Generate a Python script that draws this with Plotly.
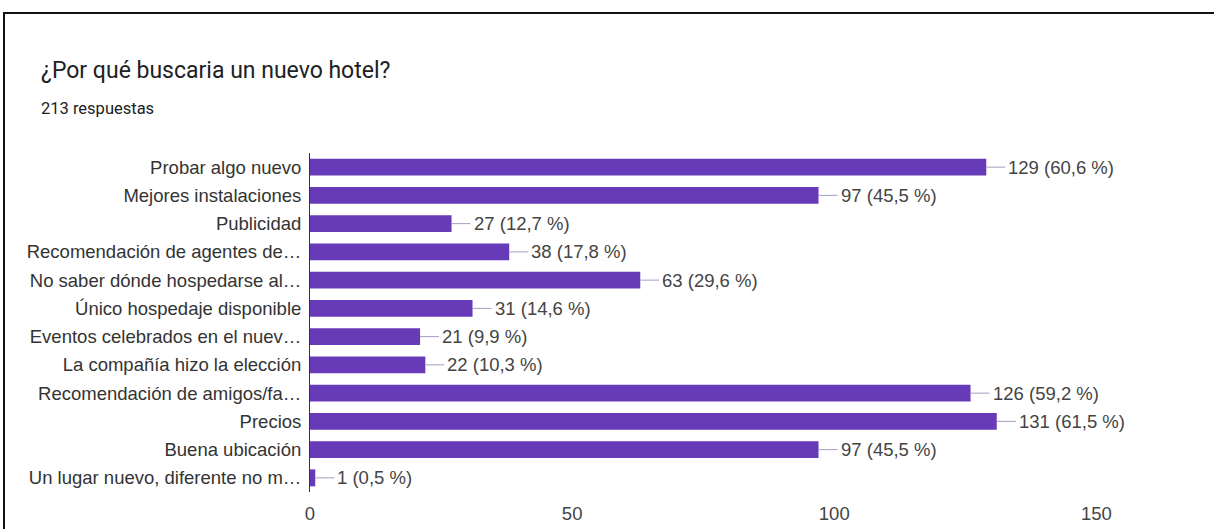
import plotly.graph_objects as go

# Survey question: reasons for looking for a new hotel
total_responses = 213
categories = [
    "Probar algo nuevo",
    "Mejores instalaciones",
    "Publicidad",
    "Recomendación de agentes de…",
    "No saber dónde hospedarse al…",
    "Único hospedaje disponible",
    "Eventos celebrados en el nuev…",
    "La compañía hizo la elección",
    "Recomendación de amigos/fa…",
    "Precios",
    "Buena ubicación",
    "Un lugar nuevo, diferente no m…",
]
counts = [129, 97, 27, 38, 63, 31, 21, 22, 126, 131, 97, 1]
percents = ["60,6", "45,5", "12,7", "17,8", "29,6", "14,6", "9,9", "10,3", "59,2", "61,5", "45,5", "0,5"]
x_ticks = [0, 50, 100, 150]

W, H = 1214, 529
ML, MR, MT, MB = 310, 39, 153, 37
X_MAX = 165

BAR = "#673ab7"
TEXT = "#333333"
LABEL_FONT = "Liberation Sans, Arial, sans-serif"

fig = go.Figure(
    go.Bar(
        x=counts,
        y=categories,
        orientation="h",
        marker=dict(color=BAR, line=dict(width=0)),
        width=0.6,
        hoverinfo="skip",
    )
)

# value labels with a short leader line from the bar end
annotations = []
for cat, n, p in zip(categories, counts, percents):
    annotations.append(
        dict(
            x=n, y=cat, xref="x", yref="y",
            text=f"{n} ({p} %)",
            showarrow=True, arrowhead=0, arrowwidth=1, arrowcolor="#a79bc4",
            ax=20, ay=0, xanchor="left", yanchor="middle",
            font=dict(family=LABEL_FONT, size=18.5, color="#444444"),
            standoff=0, startstandoff=1,
        )
    )

pw = W - ML - MR
ph = H - MT - MB


def px_x(px):
    return (px - ML) / pw


def px_y(py):
    return 1 - (py - MT) / ph


annotations += [
    dict(x=px_x(39), y=px_y(70), xref="paper", yref="paper", xanchor="left", yanchor="middle",
         text="¿Por qué buscaria un nuevo hotel?", showarrow=False,
         font=dict(family="Roboto, Arial, sans-serif", size=23, color="#202124")),
    dict(x=px_x(39), y=px_y(108), xref="paper", yref="paper", xanchor="left", yanchor="middle",
         text="213 respuestas", showarrow=False,
         font=dict(family="Roboto, Arial, sans-serif", size=16.5, color="#202124")),
]

# frame around the card (top and left edges)
shapes = [
    dict(type="line", xref="paper", yref="paper", x0=px_x(4), x1=px_x(W + 5), y0=px_y(13), y1=px_y(13),
         line=dict(color="#111111", width=2)),
    dict(type="line", xref="paper", yref="paper", x0=px_x(4), x1=px_x(4), y0=px_y(12), y1=px_y(H + 5),
         line=dict(color="#111111", width=2)),
]

fig.update_layout(
    width=W, height=H,
    margin=dict(l=ML, r=MR, t=MT, b=MB, pad=0),
    paper_bgcolor="white", plot_bgcolor="white",
    showlegend=False,
    bargap=0.4,
    annotations=annotations,
    shapes=shapes,
    xaxis=dict(
        range=[0, X_MAX], tickvals=x_ticks, showgrid=False, zeroline=False,
        showline=False, ticks="", ticklabelstandoff=8, automargin=False,
        tickfont=dict(family=LABEL_FONT, size=18.5, color="#444444"),
    ),
    yaxis=dict(
        categoryorder="array", categoryarray=categories, autorange="reversed",
        showgrid=False, zeroline=False, showline=True, linecolor="#333333", linewidth=1,
        ticks="", ticklabelstandoff=4, automargin=False,
        tickfont=dict(family=LABEL_FONT, size=18.5, color=TEXT),
    ),
    font=dict(family=LABEL_FONT),
)

fig.write_html("out.html")
